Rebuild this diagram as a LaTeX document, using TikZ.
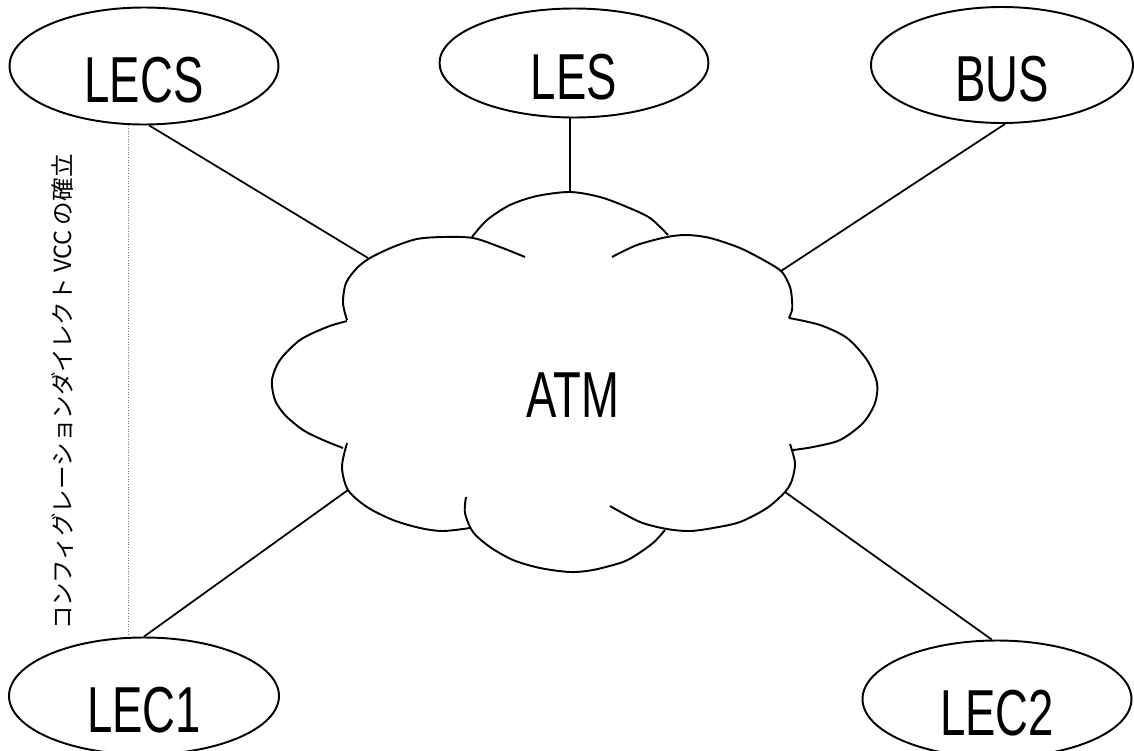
\documentclass[tikz,border=0pt]{standalone}
\usepackage{fontspec}
\setmainfont{Liberation Sans}[FakeStretch=0.7]
\newfontfamily\jpfont{Noto Sans CJK JP}
\usetikzlibrary{shapes.geometric,calc}

\begin{document}
\begin{tikzpicture}[
    x=0.02cm, y=-0.02cm,
    unit/.style={draw, ellipse, line width=1.1pt, inner sep=0pt, minimum width=5.38cm, minimum height=2.34cm,
                 font=\fontsize{37}{40}\selectfont, text height=41pt, text depth=0pt},
    link/.style={line width=1pt},
    lobe/.style={line width=1.1pt},
    guide/.style={densely dotted, gray, line width=0.5pt},
    atm/.style={font=\fontsize{37}{40}\selectfont},
    note/.style={rotate=90, font=\jpfont\fontsize{13.4}{16}\selectfont}
]
\useasboundingbox (0,0) rectangle (1134,751);
\clip (0,0) rectangle (1134,751);

\node[unit] (lecs) at (144,66) {LECS};
\node[unit, minimum height=2.18cm] (les) at (574,63) {LES};
\node[unit, minimum width=5.24cm, minimum height=2.32cm] (bus) at (1002,65) {BUS};
\node[unit, minimum width=5.4cm] (lec1) at (144,696) {LEC1};
\node[unit] (lec2) at (997,699) {LEC2};
\node[atm] (atm) at (573,395) {ATM};
\node[note] (cfg) at (62,392) {コンフィグレーションダイレクト VCC の確立};

% cloud
\draw[lobe] plot[smooth] coordinates {(347,320) (343,303) (346,283) (357,268) (370,258) (393,247) (417,239) (443,237) (473,238) (500,247) (525,257)};
\draw[lobe] plot[smooth] coordinates {(472,237) (487,220) (510,205) (537,196) (570,192) (600,197) (627,207) (650,218) (668,235)};
\draw[lobe] plot[smooth] coordinates {(612,257) (637,245) (667,237) (687,235) (710,238) (740,248) (767,262) (782,272) (790,287) (792,300) (792,310) (789,318)};
\draw[lobe] plot[smooth] coordinates {(789,318) (820,325) (847,338) (867,360) (877,383) (875,403) (863,423) (840,440) (813,447) (793,450)};
\draw[lobe] plot[smooth] coordinates {(790,444) (795,463) (792,480) (785,492) (767,508) (740,522) (713,528) (690,531) (667,529) (640,522) (610,506)};
\draw[lobe] plot[smooth] coordinates {(466,497) (465,513) (473,532) (490,547) (513,560) (540,568) (570,572) (593,570) (620,563) (633,557) (653,543) (665,530)};
\draw[lobe] plot[smooth] coordinates {(347,443) (342,467) (348,490) (367,507) (393,520) (420,528) (443,531) (470,528)};
\draw[lobe] plot[smooth] coordinates {(347,321) (327,327) (300,340) (280,360) (272,380) (275,400) (285,415) (303,430) (323,440) (343,448)};

\coordinate (cTL) at (368,258);
\coordinate (cTM) at (570,192);
\coordinate (cTR) at (781,271);
\coordinate (cBL) at (348,490);
\coordinate (cBR) at (785,492);

\draw[link] (lecs.-85) -- (cTL);
\draw[link] (cTM |- les.south) -- (cTM);
\draw[link] (bus.-87) -- (cTR);
\draw[link] (lec1.north) -- (cBL);
\draw[link] (lec2.95) -- (cBR);
\draw[guide] ($(lecs.south)+(-16,0)$) -- ($(lec1.north)+(-16,0)$);
\end{tikzpicture}
\end{document}
